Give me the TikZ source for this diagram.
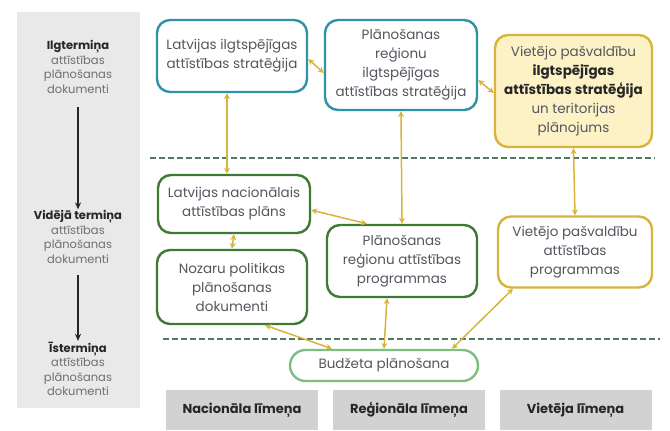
\documentclass[tikz,border=0pt]{standalone}
\usepackage{fontspec}
\setmainfont{Poppins}
\usetikzlibrary{arrows.meta}
\definecolor{strat}{HTML}{2E93A6}
\definecolor{prog}{HTML}{3F7A34}
\definecolor{gold}{HTML}{D8B43A}
\definecolor{goldfill}{HTML}{FDF2C6}
\definecolor{budg}{HTML}{7CBF7E}
\definecolor{txt}{HTML}{55555F}
\definecolor{panel}{HTML}{E9E9E9}
\definecolor{tag}{HTML}{D2D2D2}
\definecolor{sep}{HTML}{4E7A5E}

\begin{document}
\begin{tikzpicture}[x=1pt, y=-1pt, font=\fontsize{13.5}{19}\selectfont,
  box/.style={draw=#1, line width=2.4pt, fill=white, rounded corners=13pt, align=center, text=txt, inner sep=1pt},
  side/.style={font=\fontsize{11.5}{14.5}\selectfont, text=txt!85, align=center, inner sep=1pt},
  tagbox/.style={fill=tag, minimum width=152pt, minimum height=40pt, font=\fontsize{13}{15}\selectfont\bfseries, text=black!85},
  link/.style={{Stealth[length=6pt,width=6pt]}-{Stealth[length=6pt,width=6pt]}, line width=1.5pt, draw=gold},
  down/.style={-{Stealth[length=7pt,width=6pt]}, line width=1.4pt, draw=black!85},
  level/.style={draw=sep, line width=2pt, dash pattern=on 6pt off 3pt}]
\useasboundingbox (0,0) rectangle (670,431);

% ---- time horizon panel (left)
\fill[panel] (17,12) rectangle (140,408);
\node[side] (long) at (78,67) {\textbf{\color{black!85}Ilgtermiņa}\\attīstības\\plānošanas\\dokumenti};
\node[side] (mid) at (78,237) {\textbf{\color{black!85}Vidējā termiņa}\\attīstības\\plānošanas\\dokumenti};
\node[side] (short) at (78,369) {\textbf{\color{black!85}Īstermiņa}\\attīstības\\plānošanas\\dokumenti};
\draw[down] (long.south) ++(0,12) coordinate (l1) -- (mid.north);
\draw[down] (mid.south) ++(0,10) coordinate (m1) -- (short.north);

% ---- level separators
\draw[level] (150,158) -- (655,158);
\draw[level] (163,339) -- (660,339);

% ---- strategies
\node[box=strat, minimum width=150pt, minimum height=72pt] (lis) at (232,56)
  {Latvijas ilgtspējīgas\\attīstības stratēģija};
\node[box=strat, minimum width=152pt, minimum height=90pt] (ris) at (401,65)
  {Plānošanas\\reģionu\\ilgtspējīgas\\attīstības stratēģija};
\node[box=gold, fill=goldfill, minimum width=157pt, minimum height=112pt] (vis) at (573.5,91)
  {Vietējo pašvaldību\\\textbf{\color{black!85}ilgtspējīgas}\\\textbf{\color{black!85}attīstības stratēģija}\\un teritorijas\\plānojums};

% ---- plans and programmes
\node[box=prog, minimum width=152pt, minimum height=58pt] (nap) at (234,204)
  {Latvijas nacionālais\\attīstības plāns};
\node[box=prog, minimum width=150pt, minimum height=74pt] (npd) at (232,287)
  {Nozaru politikas\\plānošanas\\dokumenti};
\node[box=prog, minimum width=150pt, minimum height=72pt] (rap) at (402,261)
  {Plānošanas\\reģionu attīstības\\programmas};
\node[box=gold, minimum width=154pt, minimum height=71pt] (vap) at (575,252)
  {Vietējo pašvaldību\\attīstības\\programmas};

% ---- budget
\node[box=budg, rounded corners=15.5pt, minimum width=188pt, minimum height=31pt] (bud) at (384,365.5)
  {Budžeta plānošana};

% ---- level tags
\node[tagbox] (tnat) at (242,410) {Nacionāla līmeņa};
\node[tagbox] (treg) at (409,410) {Reģionāla līmeņa};
\node[tagbox] (tloc) at (575.5,410) {Vietēja līmeņa};

% ---- links
\draw[link] (lis.east |- 0,59) -- (ris.west |- 0,73);
\draw[link] (vis.west |- 0,93) -- (ris.east |- 0,80);
\draw[link] ([xshift=-5pt]lis.south) -- ([xshift=-7pt]nap.north);
\draw[link] (ris.south) -- (rap.north);
\draw[link] (vis.south) -- (vap.north);
\draw[link] (nap.east |- 0,210) -- ([xshift=-35pt]rap.north);
\draw[link] (nap.south) -- (npd.north);
\draw[link] ([xshift=33pt]npd.south) -- ([xshift=-52pt]bud.north);
\draw[link] ([xshift=-15pt]rap.south) -- (bud.north);
\draw[link] ([xshift=-62pt]vap.south) -- ([xshift=68pt]bud.north);
\end{tikzpicture}
\end{document}
